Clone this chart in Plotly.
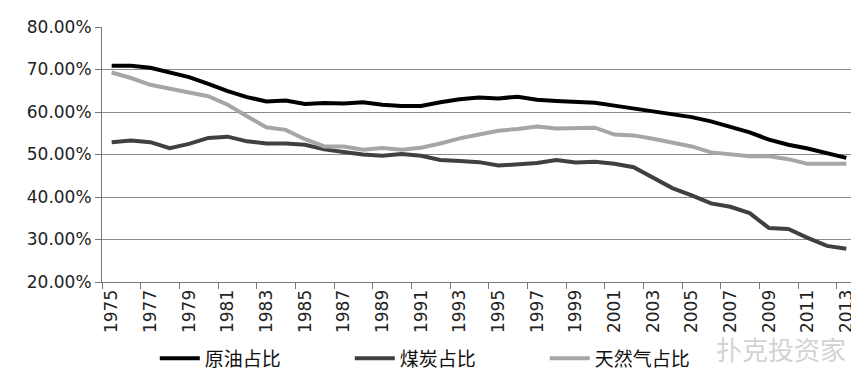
import plotly.graph_objects as go

years = [str(y) for y in range(1975, 2014)]

oil = [70.9, 70.9, 70.4, 69.2, 68.2, 66.6, 64.9, 63.5, 62.5, 62.7,
       61.9, 62.1, 62.0, 62.3, 61.7, 61.4, 61.4, 62.3, 63.0, 63.4,
       63.2, 63.6, 62.9, 62.6, 62.4, 62.2, 61.5, 60.8, 60.3, 59.4,
       58.8, 57.8, 56.6, 55.2, 53.5, 52.3, 51.4, 50.3, 49.2]

coal = [52.9, 53.3, 52.9, 51.5, 52.5, 53.9, 54.2, 53.1, 52.6, 52.6,
        52.3, 51.2, 50.6, 50.0, 49.7, 50.1, 49.7, 48.7, 48.5, 48.2,
        47.4, 47.8, 48.0, 48.7, 48.1, 48.3, 47.8, 47.0, 44.6, 42.1,
        40.4, 38.5, 37.7, 36.2, 32.7, 32.5, 30.4, 28.5, 27.8]

gas = [69.3, 68.0, 66.4, 65.4, 64.6, 63.7, 61.7, 59.0, 56.4, 55.8,
       53.6, 51.9, 51.9, 51.1, 51.5, 51.1, 51.6, 52.6, 53.8, 54.7,
       55.6, 56.0, 56.6, 56.1, 56.1, 56.3, 54.7, 54.5, 53.7, 52.9,
       51.9, 50.5, 50.0, 49.6, 49.6, 48.9, 47.8, 47.8, 47.8]

series_names = ["原油占比", "煤炭占比", "天然气占比"]
colors = ["#000000", "#404040", "#a6a6a6"]

fig = go.Figure()
for name, vals, col in zip(series_names, [oil, coal, gas], colors):
    fig.add_trace(go.Scatter(
        x=years, y=[v / 100 for v in vals], mode="lines", name=name,
        line=dict(color=col, width=4)))

fig.update_layout(
    width=859, height=386,
    margin=dict(l=94, r=11, t=19, b=112, autoexpand=False),
    paper_bgcolor="white", plot_bgcolor="white",
    font=dict(family="DejaVu Sans", size=17, color="#222222"),
    showlegend=True,
    legend=dict(orientation="h", x=0.07, xanchor="left", y=-0.30, yanchor="middle",
                entrywidth=140, entrywidthmode="pixels",
                font=dict(family="Noto Sans CJK SC", size=19, color="#111111"),
                itemwidth=40, bgcolor="rgba(0,0,0,0)"),
)
fig.update_xaxes(
    type="category", tickangle=-90, dtick=2, tick0=0, tickson="boundaries",
    ticks="outside", ticklen=6, tickcolor="#777777",
    showline=True, linecolor="#777777", linewidth=1, automargin=False,
    showgrid=False, tickfont=dict(size=17, color="#222222"),
    range=[-0.5, 38.5])
fig.update_yaxes(
    range=[0.2, 0.8], dtick=0.1, tickformat=".2%", automargin=False,
    showgrid=True, gridcolor="#8a8a8a", gridwidth=1,
    ticks="outside", ticklen=6, tickcolor="#777777",
    showline=True, linecolor="#777777", linewidth=1,
    zeroline=False, tickfont=dict(size=17, color="#222222"))

fig.add_annotation(
    text="扑克投资家", xref="paper", yref="paper", x=0.99, y=-0.26,
    xanchor="right", yanchor="middle", showarrow=False,
    font=dict(family="Noto Sans CJK SC", size=26, color="rgba(180,180,180,0.6)"))

fig.write_html("out.html")
